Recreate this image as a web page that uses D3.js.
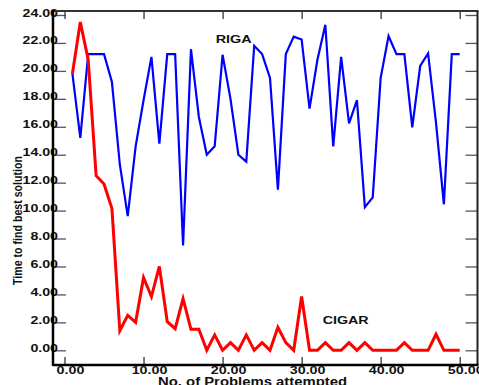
<!DOCTYPE html>
<html>
<head>
<meta charset="utf-8">
<script src="https://cdn.jsdelivr.net/npm/d3@7"></script>
<style>
  html, body { margin: 0; padding: 0; background: #fff; }
  svg { display: block; font-family: "Liberation Sans", Arial, sans-serif; }
</style>
</head>
<body>
<svg id="chart" width="479" height="385"></svg>
<script>
// ---- data ----
const problems = d3.range(1, 51);
const rigaTimes = [19.8, 15.2, 21.2, 21.2, 21.2, 19.2, 13.3, 9.6, 14.6, 17.9,
                   21.0, 14.8, 21.2, 21.2, 7.5, 21.55, 16.7, 14.0, 14.6, 21.15,
                   18.0, 14.0, 13.5, 21.8, 21.2, 19.5, 11.5, 21.2, 22.45, 22.25,
                   17.3, 20.8, 23.3, 14.6, 21.0, 16.25, 17.9, 10.25, 10.95, 19.5,
                   22.5, 21.2, 21.2, 15.95, 20.35, 21.25, 16.3, 10.45, 21.2, 21.2];
const cigarTimes = [19.8, 23.5, 20.8, 12.5, 11.9, 10.15, 1.4, 2.5, 2.0, 5.2,
                    3.85, 6.0, 2.05, 1.55, 3.7, 1.5, 1.5, 0.0, 1.1, 0.0,
                    0.55, 0.0, 1.1, 0.0, 0.55, 0.0, 1.65, 0.55, 0.0, 3.85,
                    0.0, 0.0, 0.55, 0.0, 0.0, 0.55, 0.0, 0.55, 0.0, 0.0,
                    0.0, 0.0, 0.55, 0.0, 0.0, 0.0, 1.15, 0.0, 0.0, 0.0];
const xTicks = [0, 10, 20, 30, 40, 50];
const yTicks = d3.range(0, 25, 2);
const seriesNames = ["RIGA", "CIGAR"];

// ---- layout ----
const svg = d3.select("#chart");
const padL = 53, padR = 477.5, padT = 11, padB = 365;
const x = d3.scaleLinear().domain([0, 50]).range([64.5, 459.7]);
const y = d3.scaleLinear().domain([0, 24]).range([350.3, 15]);
const fmt = d3.format(".2f");

// left axis
const gL = svg.append("g").attr("transform", `translate(${padL},0)`)
  .call(d3.axisLeft(y).tickValues(yTicks).tickSize(-13).tickFormat(fmt));
gL.select(".domain").remove();
gL.selectAll(".tick line").attr("stroke", "#555").attr("stroke-width", 1.3);
gL.selectAll(".tick text")
  .attr("x", 0).attr("dy", null).attr("text-anchor", "end")
  .attr("transform", "translate(5,1) scale(1.42,1)")
  .attr("font-size", 10).attr("font-weight", "bold").attr("fill", "#111")
  .attr("font-family", "Liberation Sans, Arial, sans-serif");

// right axis (ticks only)
const gR = svg.append("g").attr("transform", `translate(${padR},0)`)
  .call(d3.axisRight(y).tickValues(yTicks).tickSize(-12).tickFormat(""));
gR.select(".domain").remove();
gR.selectAll(".tick line").attr("stroke", "#555").attr("stroke-width", 1.3);

// bottom axis
const gB = svg.append("g").attr("transform", `translate(0,${padB})`)
  .call(d3.axisBottom(x).tickValues(xTicks).tickSize(-8).tickFormat(fmt));
gB.select(".domain").remove();
gB.selectAll(".tick line").attr("stroke", "#333").attr("stroke-width", 1.3);
gB.selectAll(".tick text")
  .attr("y", 0).attr("dy", null).attr("text-anchor", "middle")
  .attr("transform", "translate(5.5,8.7) scale(1.3,1)")
  .attr("font-size", 11).attr("font-weight", "bold").attr("fill", "#111")
  .attr("font-family", "Liberation Sans, Arial, sans-serif");

// top axis (ticks only)
const gT = svg.append("g").attr("transform", `translate(0,${padT})`)
  .call(d3.axisTop(x).tickValues(xTicks).tickSize(-8).tickFormat(""));
gT.select(".domain").remove();
gT.selectAll(".tick line").attr("stroke", "#333").attr("stroke-width", 1.3);

// frame
svg.append("line").attr("x1", padL).attr("x2", padR + 1).attr("y1", padT).attr("y2", padT)
  .attr("stroke", "#333").attr("stroke-width", 2);
svg.append("line").attr("x1", padR).attr("x2", padR).attr("y1", padT).attr("y2", padB)
  .attr("stroke", "#222").attr("stroke-width", 2);
svg.append("line").attr("x1", padL).attr("x2", padL).attr("y1", padT - 1).attr("y2", padB + 1)
  .attr("stroke", "#000").attr("stroke-width", 2.5);
svg.append("line").attr("x1", padL).attr("x2", padR + 1).attr("y1", padB).attr("y2", padB)
  .attr("stroke", "#000").attr("stroke-width", 2.5);

// lines
const line = d3.line().x((d, i) => x(problems[i])).y(d => y(d));
svg.append("path").datum(rigaTimes).attr("d", line)
  .attr("fill", "none").attr("stroke", "#0000ff").attr("stroke-width", 2.2)
  .attr("stroke-linejoin", "miter");
svg.append("path").datum(cigarTimes).attr("d", line)
  .attr("fill", "none").attr("stroke", "#ff0000").attr("stroke-width", 3)
  .attr("stroke-linejoin", "miter");

// series labels
svg.append("text").attr("x", 215.7).attr("y", 43).text(seriesNames[0])
  .attr("font-size", 11.5).attr("font-weight", "bold").attr("fill", "#111")
  .attr("textLength", 36).attr("lengthAdjust", "spacingAndGlyphs");
svg.append("text").attr("x", 322.7).attr("y", 324.3).text(seriesNames[1])
  .attr("font-size", 11).attr("font-weight", "bold").attr("fill", "#111")
  .attr("textLength", 46).attr("lengthAdjust", "spacingAndGlyphs");

// axis titles
svg.append("text").attr("transform", "translate(21.7,285) rotate(-90)")
  .attr("x", 0).attr("y", 0).text("Time to find best solution")
  .attr("font-size", 13.5).attr("font-weight", "bold").attr("fill", "#111")
  .attr("textLength", 129).attr("lengthAdjust", "spacingAndGlyphs");
svg.append("text").attr("x", 158).attr("y", 385.8).text("No. of Problems attempted")
  .attr("font-size", 12.5).attr("font-weight", "bold").attr("fill", "#111")
  .attr("textLength", 189).attr("lengthAdjust", "spacingAndGlyphs");
</script>
</body>
</html>
